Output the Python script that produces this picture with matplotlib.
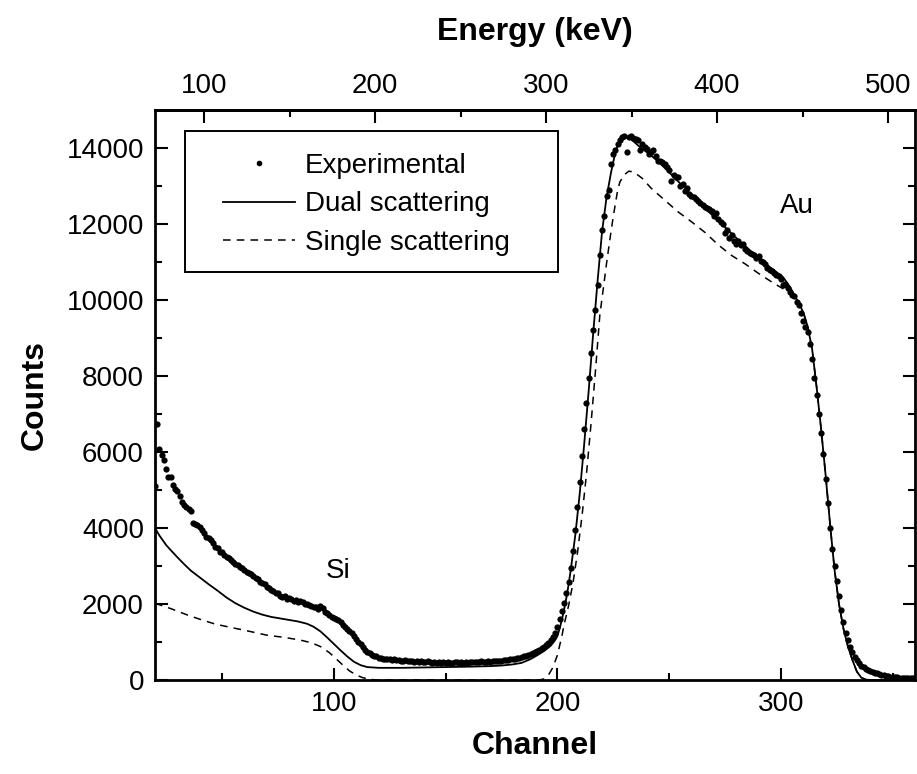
import numpy as np
import matplotlib
matplotlib.use("Agg")
import matplotlib.pyplot as plt
from matplotlib.patches import Rectangle

plt.rcParams['font.family'] = ['Liberation Sans', 'DejaVu Sans']

# experimental spectrum, one value per channel from 20 to 360
first_channel = 20
exp_counts = [
    5100, 6750, 6080, 5920, 5790, 5550, 5340, 5340, 5130, 5020,   # 20
    4970, 4850, 4690, 4600, 4550, 4500, 4450, 4140, 4100, 4080,   # 30
    4030, 3950, 3880, 3770, 3730, 3680, 3600, 3510, 3470, 3380,   # 40
    3360, 3300, 3240, 3220, 3160, 3100, 3060, 3030, 2980, 2940,   # 50
    2900, 2850, 2810, 2780, 2730, 2680, 2650, 2590, 2560, 2520,   # 60
    2450, 2430, 2370, 2340, 2300, 2280, 2220, 2190, 2200, 2130,   # 70
    2160, 2120, 2080, 2100, 2050, 2070, 2060, 2010, 1990, 1970,   # 80
    1960, 1920, 1930, 1870, 1950, 1890, 1800, 1760, 1720, 1670,   # 90
    1640, 1600, 1580, 1520, 1450, 1400, 1340, 1290, 1230, 1160,   # 100
    1080, 1010, 940, 860, 790, 740, 700, 660, 640, 620,           # 110
    590, 570, 560, 550, 545, 560, 530, 540, 520, 530,             # 120
    510, 495, 520, 500, 490, 510, 480, 495, 470, 490,             # 130
    480, 465, 490, 470, 455, 480, 460, 470, 450, 475,             # 140
    455, 470, 460, 445, 470, 465, 450, 480, 460, 470,             # 150
    455, 480, 465, 470, 480, 470, 490, 475, 480, 495,             # 160
    485, 500, 490, 510, 500, 510, 520, 515, 530, 540,             # 170
    540, 560, 570, 580, 600, 620, 640, 660, 690, 710,             # 180
    745, 770, 800, 840, 880, 930, 980, 1040, 1120, 1240,          # 190
    1400, 1600, 1820, 2020, 2300, 2590, 2950, 3400, 3950, 4550,   # 200
    5200, 5900, 6600, 7300, 7950, 8600, 9200, 9740, 10400, 11180, # 210
    11840, 12220, 12750, 12900, 13580, 13830, 13950, 14100, 14200, 14280,  # 220
    14320, 13890, 14300, 14310, 14270, 14250, 14200, 13940, 14100, 14030,  # 230
    13980, 13850, 13900, 13940, 13800, 13670, 13650, 13630, 13580, 13500,  # 240
    13420, 13140, 13300, 13250, 13230, 13010, 13050, 12880, 12950, 12790,  # 250
    12750, 12700, 12660, 12610, 12550, 12500, 12440, 12420, 12390, 12350,  # 260
    12200, 12300, 12130, 12050, 12000, 11770, 11850, 11640, 11700, 11550,  # 270
    11470, 11550, 11450, 11470, 11350, 11290, 11250, 11200, 11180, 11100,  # 280
    11160, 11030, 11000, 10940, 10850, 10800, 10760, 10720, 10650, 10630,  # 290
    10540, 10400, 10410, 10320, 10200, 10140, 10100, 9950, 9880, 9660,     # 300
    9450, 9300, 9150, 8850, 8450, 7950, 7500, 7000, 6500, 5950,            # 310
    5300, 4650, 4000, 3450, 3000, 2600, 2200, 1850, 1520, 1250,            # 320
    1050, 880, 745, 600, 530, 440, 380, 350, 300, 263,                     # 330
    230, 200, 185, 175, 150, 135, 120, 105, 100, 90,                       # 340
    80, 75, 70, 65, 60, 55, 50, 50, 45, 45,                                # 350
    40,                                                                    # 360
]
exp_channel = np.arange(first_channel, first_channel + len(exp_counts))

# dual scattering simulation
dual_channel = [20, 22, 25, 27, 30, 33, 36, 40, 44, 48, 52, 56, 60, 64, 68, 72, 76, 80,
                84, 88, 91, 94, 97, 100, 103, 106, 109, 112, 115, 120, 130, 140, 150,
                160, 170, 175, 180, 184, 188, 191, 194, 197, 199, 200, 201, 202, 203,
                204, 205, 206, 208, 210, 212, 214, 216, 218, 220, 222, 224, 226, 228,
                230, 232, 234, 237, 241, 245, 249, 253, 257, 261, 265, 269, 273, 277,
                281, 285, 289, 293, 297, 301, 304, 306, 308, 310, 312, 314, 316, 318,
                320, 322, 324, 326, 328, 330, 332, 334, 336, 338, 340, 360]
dual_counts = [4000, 3800, 3550, 3420, 3230, 3050, 2880, 2700, 2520, 2350, 2170, 2020,
               1900, 1800, 1720, 1660, 1620, 1580, 1540, 1480, 1400, 1280, 1120, 950,
               780, 620, 480, 390, 340, 320, 320, 330, 340, 350, 365, 380, 410, 450,
               550, 650, 760, 900, 1050, 1150, 1350, 1580, 1850, 2150, 2500, 2900,
               3800, 4900, 6200, 7600, 9100, 10500, 11800, 12700, 13350, 13900, 14250,
               14320, 14280, 14180, 14020, 13850, 13650, 13420, 13180, 12950, 12700,
               12470, 12250, 12030, 11800, 11580, 11370, 11150, 10960, 10780, 10600,
               10350, 10130, 9920, 9680, 9300, 8700, 7700, 6600, 5400, 4100, 2900,
               2000, 1350, 880, 526, 220, 60, 10, 0, 0]

# single scattering simulation
single_channel = [20, 27, 35, 40, 47, 55, 60, 70, 78, 85, 90, 94, 98, 101, 104, 107, 110,
                  113, 116, 119, 192, 194, 196, 198, 200, 202, 203, 205, 207, 209, 211,
                  213, 215, 217, 219, 221, 222, 224, 225, 227, 228, 230, 232, 234, 236,
                  238, 242, 248, 254, 260, 266, 272, 278, 284, 290, 296, 300, 303, 306,
                  308, 310, 312, 314, 316, 318, 320, 322, 324, 326, 328, 330, 332, 334,
                  336, 338, 340, 360]
single_counts = [2020, 1880, 1700, 1600, 1470, 1370, 1310, 1180, 1120, 1050, 980, 880,
                 720, 560, 395, 240, 130, 60, 20, 0, 0, 30, 130, 330, 650, 1150, 1450,
                 1950, 2550, 3350, 4300, 5400, 6700, 8100, 9600, 10500, 10960, 11800,
                 12190, 12900, 13110, 13300, 13390, 13370, 13290, 13200, 12940, 12630,
                 12320, 12060, 11780, 11450, 11170, 10950, 10700, 10470, 10330, 10230,
                 10130, 9920, 9680, 9300, 8700, 7700, 6600, 5400, 4100, 2900, 2000,
                 1350, 880, 526, 220, 60, 10, 0, 0]

labels = ["Experimental", "Dual scattering", "Single scattering"]

# energy calibration (keV = offset + gain * channel)
e_offset, e_gain = 45.2, 1.307


def ch2e(c):
    return e_offset + e_gain * np.asarray(c)


def e2ch(e):
    return (np.asarray(e) - e_offset) / e_gain


fig = plt.figure(figsize=(9.17, 7.74), dpi=100)
ax = fig.add_axes([155 / 917, 94 / 774, 760 / 917, 570 / 774])

ax.plot(exp_channel, exp_counts, 'o', color='black', ms=4.5, mew=0, label=labels[0])
ax.plot(dual_channel, dual_counts, '-', color='black', lw=1.3, label=labels[1])
ax.plot(single_channel, single_counts, color='black', lw=1.1, dashes=(5, 4), label=labels[2])

ax.set_xlim(20, 360)
ax.set_ylim(0, 15000)
ax.set_xticks([100, 200, 300])
ax.set_xticks([50, 150, 250, 350], minor=True)
ax.set_yticks(np.arange(0, 15000, 2000))
ax.set_yticks(np.arange(1000, 15000, 2000), minor=True)

fs = 20
ax.tick_params(which='both', direction='in', right=True, width=1.5, labelsize=fs)
ax.tick_params(which='major', length=9, pad=8)
ax.tick_params(which='minor', length=5)
for sp in ax.spines.values():
    sp.set_linewidth(2.0)

ax.set_xlabel("Channel", fontsize=23, fontweight='bold', labelpad=10)
ax.set_ylabel("Counts", fontsize=23, fontweight='bold', labelpad=12)

top = ax.secondary_xaxis('top', functions=(ch2e, e2ch))
top.set_xticks([100, 200, 300, 400, 500])
top.set_xticks([150, 250, 350, 450], minor=True)
top.tick_params(which='both', direction='in', width=1.5, labelsize=fs)
top.tick_params(which='major', length=9, pad=8)
top.tick_params(which='minor', length=5)
top.spines['top'].set_linewidth(2.0)
top.set_xlabel("Energy (keV)", fontsize=23, fontweight='bold', labelpad=24)

ax.text(102, 2870, "Si", fontsize=fs, ha='center', va='center')
ax.text(307, 12470, "Au", fontsize=fs, ha='center', va='center')

leg = ax.legend(loc='upper left', bbox_to_anchor=(0.0895, 0.925), frameon=False,
                fontsize=fs, handlelength=2.6, handletextpad=0.35, labelspacing=0.45,
                borderpad=0, borderaxespad=0, markerscale=0.9)
ax.add_patch(Rectangle(((185 - 155) / 760, (680 - 272) / 570), (558 - 185) / 760,
                       (272 - 131) / 570, transform=ax.transAxes, fill=False,
                       edgecolor='black', lw=1.4, zorder=5))

fig.savefig("out.png", dpi=100)
